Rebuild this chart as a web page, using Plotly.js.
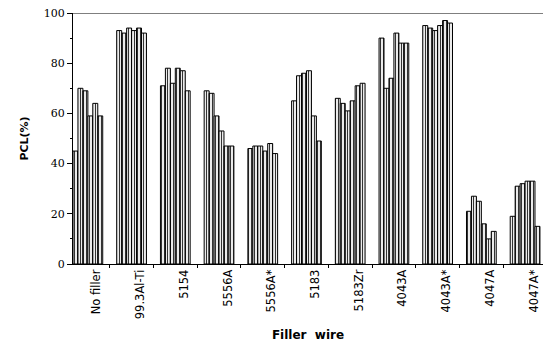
<!DOCTYPE html>
<html>
<head>
<meta charset="utf-8">
<script src="https://cdn.plot.ly/plotly-3.0.1.min.js"></script>
<style>html,body{margin:0;padding:0;background:#fff}#chart{width:543px;height:347px}</style>
</head>
<body>
<div id="chart"></div>
<script>
// Categories (filler wires)
const categories = ["No filler", "99.3Al-Ti", "5154", "5556A", "5556A*", "5183", "5183Zr", "4043A", "4043A*", "4047A", "4047A*"];
// PCL (%) values, six specimens per filler wire
const s1 = [45, 93, 71, 69, 46, 65, 66, 90, 95, 21, 19];
const s2 = [70, 92, 78, 68, 47, 75, 64, 70, 94, 27, 31];
const s3 = [69, 94, 72, 59, 47, 76, 61, 74, 93, 25, 32];
const s4 = [59, 93, 78, 53, 45, 77, 65, 92, 95, 16, 33];
const s5 = [64, 94, 77, 47, 48, 59, 71, 88, 97, 10, 33];
const s6 = [59, 92, 69, 47, 44, 49, 72, 88, 96, 13, 15];
const series = [s1, s2, s3, s4, s5, s6];
const yTicks = [0, 20, 40, 60, 80, 100];

const idx = categories.map((c, i) => i);
const traces = series.map(vals => ({
  type: 'bar',
  x: idx,
  y: vals,
  marker: {
    color: '#ffffff',
    line: {color: '#000000', width: 1},
    pattern: {shape: '|', fgcolor: '#333333', bgcolor: '#ffffff', size: 3, solidity: 0.4}
  },
  hoverinfo: 'skip',
  showlegend: false
}));

const layout = {
  width: 543, height: 347,
  margin: {l: 73, r: 0, t: 13, b: 83},
  paper_bgcolor: '#ffffff', plot_bgcolor: '#ffffff',
  barmode: 'group', bargap: 0.32, bargroupgap: 0,
  font: {family: 'DejaVu Sans', color: '#000', size: 10},
  xaxis: {
    range: [-0.34, 10.41],
    tickvals: idx.map(i => i + 0.2),
    ticktext: categories,
    tickangle: -90,
    ticks: '',
    showgrid: false, zeroline: false,
    showline: true, linecolor: '#000', linewidth: 1,
    tickfont: {family: 'DejaVu Sans', size: 11.5},
    minor: {tick0: 0.5, dtick: 1, ticks: 'outside', ticklen: 3, tickcolor: '#000', showgrid: false},
    title: {text: '<b>Filler  wire</b>', font: {family: 'DejaVu Sans', size: 12}, standoff: 12}
  },
  yaxis: {
    range: [0, 100],
    tickvals: yTicks,
    ticks: 'outside', ticklen: 5, tickcolor: '#000',
    showgrid: false, zeroline: false,
    showline: true, linecolor: '#000', linewidth: 1,
    tickfont: {family: 'DejaVu Serif', size: 11},
    minor: {dtick: 10, ticks: 'outside', ticklen: 2, tickcolor: '#000', showgrid: false},
    title: {text: '<b>PCL(%)</b>', font: {family: 'DejaVu Sans', size: 11}, standoff: 12}
  },
  shapes: [{type: 'line', xref: 'paper', yref: 'y', x0: 0, x1: 1, y0: 100, y1: 100, line: {color: '#000', width: 1}}]
};

Plotly.newPlot('chart', traces, layout, {displayModeBar: false, staticPlot: true});
</script>
</body>
</html>
